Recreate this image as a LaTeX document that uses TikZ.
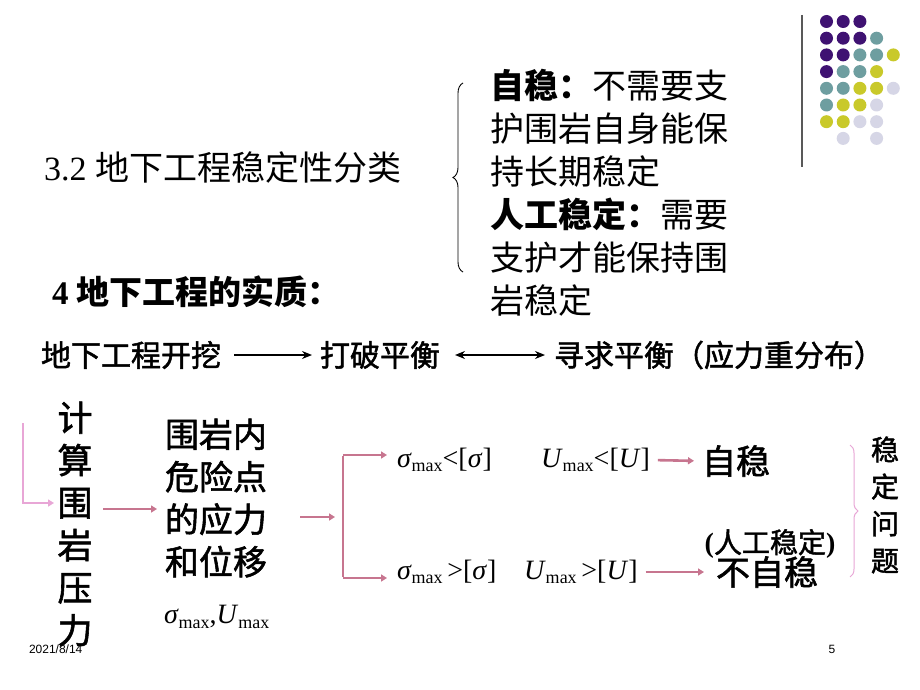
\documentclass[tikz,border=0pt]{standalone}
\usepackage{fontspec}
\setmainfont{Liberation Serif}
\setsansfont{Liberation Sans}
\newfontfamily\cjk{Noto Sans CJK SC}
\newfontfamily\cjkm{Noto Sans CJK SC}[FakeBold=1.6]
\usetikzlibrary{arrows.meta,decorations.pathreplacing}
\definecolor{dotP}{HTML}{3F1272}
\definecolor{dotT}{HTML}{6E9EA0}
\definecolor{dotY}{HTML}{C9C92A}
\definecolor{dotL}{HTML}{D6D6E6}
\definecolor{rose}{HTML}{C7758F}
\definecolor{lpink}{HTML}{E8A6D6}
\newcommand{\fsz}[2]{\fontsize{#1}{#2}\selectfont}
\newcommand{\sig}{\textit{σ}}
\newcommand{\mx}{\raisebox{-0.35ex}{\fontsize{18}{18}\selectfont max}}
\begin{document}
\begin{tikzpicture}[x=1pt,y=-1pt,
  txt/.style={inner sep=0pt,outer sep=0pt},
  blkarrow/.style={line width=1.3pt,-{Stealth[length=10pt,width=8pt]}},
  blkdarrow/.style={line width=1.3pt,{Stealth[length=10pt,width=8pt]}-{Stealth[length=10pt,width=8pt]}},
  rosearrow/.style={draw=rose,line width=2.6pt,-{Triangle[length=6pt,width=7pt]}},
  roseline/.style={draw=rose,line width=2.6pt},
  pinkarrow/.style={draw=lpink,line width=2.6pt,-{Triangle[length=6pt,width=7pt]}},
  dot/.style={circle,inner sep=0pt,minimum size=13pt}
]
\useasboundingbox (0,0) rectangle (920,690);
\fill[white] (0,0) rectangle (920,690);

% decoration dots
\draw[gray!70!black,line width=1.2pt] (802,15) -- (802,167);
\foreach \c/\r/\k in {0/0/P,1/0/P,2/0/P,
  0/1/P,1/1/P,2/1/P,3/1/T,
  0/2/P,1/2/P,2/2/T,3/2/T,4/2/Y,
  0/3/P,1/3/T,2/3/T,3/3/Y,
  0/4/T,1/4/T,2/4/Y,3/4/Y,4/4/L,
  0/5/T,1/5/Y,2/5/Y,3/5/L,
  0/6/Y,1/6/Y,2/6/L,3/6/L,
  1/7/L,3/7/L}{
  \node[dot,fill=dot\k] (d\r\c) at (826.5+16.7*\c, 21.5+16.7*\r) {};
}

% title 3.2
\node[txt,anchor=west] (t32) at (44,168) {\fsz{34}{40}3.2 {\cjk 地下工程稳定性分类}};
\draw[line width=0.9pt,decorate,decoration={brace,amplitude=10pt}] (463,272) -- (463,83);
\node[txt,anchor=west,align=left,font={\fsz{34}{43}\cjk}] (cls) at (490,193) {%
  {\bfseries 自稳：}不需要支\\护围岩自身能保\\持长期稳定\\{\bfseries 人工稳定：}需要\\支护才能保持围\\岩稳定};

% section 4
\node[txt,anchor=west] (s4) at (52,292) {\fsz{33}{40}\bfseries 4 {\cjk 地下工程的实质：}};

% arrow row
\node[txt] (r1) at (131,355) {\fsz{30}{36}\cjkm 地下工程开挖};
\node[txt] (r2) at (380,355) {\fsz{30}{36}\cjkm 打破平衡};
\node[txt] (r3) at (719,355) {\fsz{30}{36}\cjkm 寻求平衡（应力重分布）};
\draw[blkarrow,shorten <=13pt,shorten >=8pt] (r1.east) -- (r2.west);
\draw[blkdarrow,shorten <=15pt,shorten >=9pt] (r2.east) -- (r3.west);

% bottom left
\node[txt,align=center,font={\fsz{35}{42.5}\cjkm}] (calc) at (75,524) {计\\算\\围\\岩\\压\\力};
\node[txt,align=left,font={\fsz{34}{42.5}\cjkm}] (pts) at (216,498) {围岩内\\危险点\\的应力\\和位移};
\node[txt,anchor=west] (smax) at (164,617) {\fsz{28}{30}\sig\mx,\textit{U}\mx};
\coordinate (l0) at (23,423);
\coordinate (l1) at (54,503);
\draw[pinkarrow] (l0) |- (l1);
\coordinate (a0) at (103,509);
\coordinate (a1) at (157,509);
\draw[rosearrow] (a0) -- (a1);

% branch
\coordinate (b0) at (300,517);
\coordinate (b1) at (335,517);
\draw[rosearrow] (b0) -- (b1);
\coordinate (v1) at (343,455);
\coordinate (v2) at (343,578);
\coordinate (e1) at (387,455);
\coordinate (e2) at (387,578);
\draw[roseline] ([yshift=-1.3pt]v1) -- ([yshift=1.3pt]v2);
\draw[rosearrow] (v1) -- (e1);
\draw[rosearrow] (v2) -- (e2);

\node[txt,anchor=west] (f1a) at (397,460) {\fsz{28}{30}\sig\mx<[\sig]};
\node[txt,anchor=west] (f1b) at (541,460) {\fsz{28}{30}\textit{U}\mx<[\textit{U}]};
\node[txt,anchor=west] (zw) at (702,461) {\fsz{34}{36}\cjkm 自稳};
\draw[rosearrow,shorten <=8pt,shorten >=8pt] (f1b.east) -- (zw.west);

\node[txt,anchor=west] (f2a) at (397,572) {\fsz{28}{30}\sig\mx\,>[\sig]};
\node[txt,anchor=west] (f2b) at (524,572) {\fsz{28}{30}\textit{U}\mx\,>[\textit{U}]};
\node[txt] (rg) at (770,544) {\fsz{28}{30}{\bfseries(}{\cjkm 人工稳定}{\bfseries)}};
\node[txt] (bzw) at (767,572) {\fsz{34}{36}\cjkm 不自稳};
\draw[rosearrow,shorten <=8pt,shorten >=12pt] (f2b.east) -- (bzw.west);

\draw[lpink,line width=1pt,decorate,decoration={brace,amplitude=8pt}] (850,445) -- (850,577);
\node[txt,align=center,font={\fsz{28}{37}\cjkm}] (wd) at (885,505) {稳\\定\\问\\题};

% footer
\node[txt,anchor=west] (date) at (29,649) {\sffamily\fsz{12}{14}2021/8/14};
\node[txt] (pg) at (832,649) {\sffamily\fsz{12}{14}5};
\end{tikzpicture}
\end{document}
